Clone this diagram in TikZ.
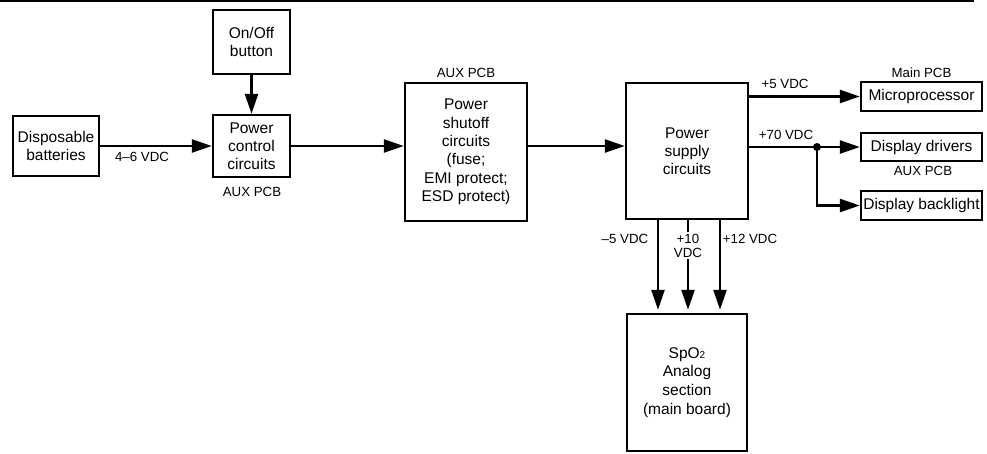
\documentclass[tikz,border=0pt]{standalone}
\usepackage{fontspec}
\setmainfont{Liberation Sans}
\usetikzlibrary{arrows.meta,calc}
\tikzset{
  blk/.style={draw, line width=2.4pt, align=center, inner sep=0pt, font=\fontsize{15.5}{17.8}\selectfont},
  lbl/.style={inner sep=1pt, align=center, font=\fontsize{13.3}{14}\selectfont},
  conn/.style={line width=2.4pt},
  arr/.style={conn, -{Triangle[length=20pt,width=13pt]}},
}
\begin{document}
\begin{tikzpicture}[x=1pt,y=-1pt]
\useasboundingbox (0,0) rectangle (987,453);
\draw[line width=1.6pt] (0,1) coordinate (tl) -- (974,1) coordinate (tr);
% blocks
\node[blk, minimum width=86pt, minimum height=60pt] (bat) at (56,146) {Disposable\\batteries};
\node[blk, minimum width=77pt, minimum height=64pt] (onoff) at (251.5,42) {On/Off\\button};
\node[blk, minimum width=77pt, minimum height=62pt] (pcc) at (251.5,146) {Power\\control\\circuits};
\node[blk, minimum width=122pt, minimum height=138pt, font=\fontsize{15.5}{18.3}\selectfont] (psh) at (466,152) {Power\\shutoff\\circuits\\(fuse;\\EMI protect;\\ESD protect)};
\node[blk, minimum width=122pt, minimum height=136pt] (psc) at (687,151) {Power\\supply\\circuits};
\node[blk, minimum width=121pt, minimum height=29pt] (micro) at (921.5,96.5) {Microprocessor};
\node[blk, minimum width=121pt, minimum height=28pt] (drv) at (921.5,147) {Display drivers};
\node[blk, minimum width=121pt, minimum height=29pt] (back) at (921.5,205.5) {Display backlight};
\node[blk, minimum width=120pt, minimum height=137pt, font=\fontsize{15.5}{18.8}\selectfont] (spo) at (687,382.5) {SpO{\fontsize{10}{10}\selectfont 2}\\Analog\\section\\(main board)};
% labels
\node[lbl] (l46) at (142,157) {4–6 VDC};
\node[lbl] (aux1) at (252,192) {AUX PCB};
\node[lbl] (aux2) at (466,73) {AUX PCB};
\node[lbl] (l5) at (785,84) {+5 VDC};
\node[lbl] (mainpcb) at (921.5,73) {Main PCB};
\node[lbl] (l70) at (786,135) {+70 VDC};
\node[lbl] (aux3) at (923,171) {AUX PCB};
\node[lbl] (lm5) at (625,239) {–5 VDC};
\node[lbl] (l12) at (750,239) {+12 VDC};
% connectors
\draw[arr] (bat.east) -- (pcc.west);
\draw[arr] (onoff.south) -- (pcc.north);
\draw[arr] (pcc.east) -- (pcc.east -| psh.west);
\draw[arr] (pcc.east -| psh.east) -- (pcc.east -| psc.west);
\draw[arr] (micro.west -| psc.east) -- (micro.west);
\coordinate (j) at (817,147);
\draw[arr] (drv.west -| psc.east) -- (drv.west);
\fill (j) circle (4pt);
\draw[arr] (j) |- (back.west);
\coordinate (s1) at (658,0);
\coordinate (s2) at (688,0);
\coordinate (s3) at (720,0);
\draw[arr, shorten >=3pt] (psc.south -| s1) -- (spo.north -| s1);
\draw[arr, shorten >=3pt] (psc.south -| s2) -- (spo.north -| s2);
\draw[arr, shorten >=3pt] (psc.south -| s3) -- (spo.north -| s3);
\node[lbl, fill=white, inner ysep=2pt, inner xsep=0pt] (l10) at (688,245.5) {+10\\VDC};
\end{tikzpicture}
\end{document}
